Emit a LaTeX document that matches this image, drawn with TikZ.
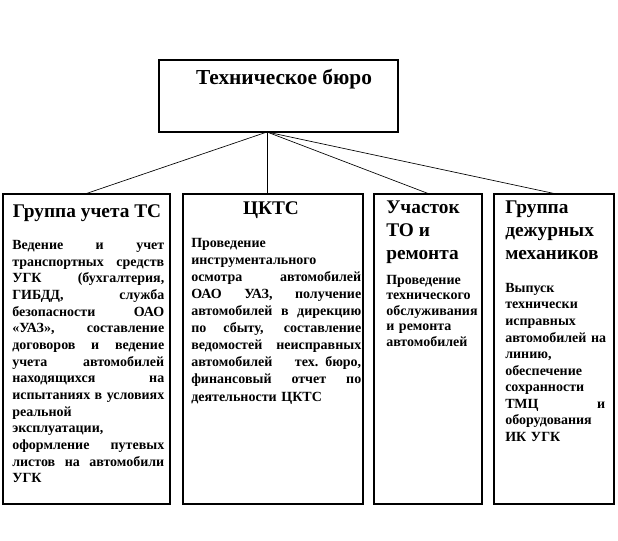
\documentclass[tikz,border=0pt]{standalone}
\usepackage{fontspec}
\setmainfont{Liberation Serif}
\usetikzlibrary{positioning}

\newcommand\jrow[1]{\leavevmode\hbox to\linewidth{\spaceskip=\fontdimen2\font plus 1fil\relax #1}}

\begin{document}
\begin{tikzpicture}[x=0.75pt,y=-0.75pt,
    box/.style={draw,line width=0.8pt,inner sep=0pt},
    head/.style={font=\bfseries\fontsize{14.5}{17.25}\selectfont,inner sep=0pt,align=left},
    body/.style={font=\bfseries\fontsize{10.5}{#1}\selectfont,inner sep=0pt,align=left,anchor=north west}]

    \useasboundingbox (0,0) rectangle (618,540);

    % frames
    \node[box,minimum width=179.25pt,minimum height=54pt] (buro) at (278.5,96) {};
    \node[box,minimum width=125.25pt,minimum height=232.5pt] (uchet) at (86.5,349) {};
    \node[box,minimum width=135pt,minimum height=232.5pt] (ckts) at (273,349) {};
    \node[box,minimum width=81pt,minimum height=232.5pt] (remont) at (428,349) {};
    \node[box,minimum width=90pt,minimum height=232.5pt] (meh) at (554,349) {};

    % connectors
    \coordinate (hub) at (267,132);
    \draw[line width=0.5pt] (hub) -- (uchet.north);
    \draw[line width=0.5pt] (hub) -- (hub |- ckts.north);
    \draw[line width=0.5pt] (hub) -- (remont.north);
    \draw[line width=0.5pt] (hub) -- (meh.north);

    % headings
    \node[font=\bfseries\fontsize{16}{19}\selectfont,anchor=base,inner sep=0pt] (buroname) at (284,84) {Техническое бюро};
    \node[head,anchor=base] (uchethead) at (87,217) {Группа учета ТС};
    \node[head,anchor=base] (cktshead) at (271,214) {ЦКТС};
    \node[head,anchor=north west] (remonthead) at (386,201) {Участок\\ТО и\\ремонта};
    \node[head,anchor=north west] (mehhead) at (505,201) {Группа\\дежурных\\механиков};

    % texts
    \node[body=12.5,text width=114pt] (uchettext) at (12,240) {%
      \jrow{Ведение и учет}\\
      \jrow{транспортных средств}\\
      \jrow{УГК (бухгалтерия,}\\
      \jrow{ГИБДД, служба}\\
      \jrow{безопасности ОАО}\\
      \jrow{«УАЗ», составление}\\
      \jrow{договоров и ведение}\\
      \jrow{учета автомобилей}\\
      \jrow{находящихся на}\\
      \jrow{испытаниях в условиях}\\
      реальной\\
      эксплуатации,\\
      \jrow{оформление путевых}\\
      \jrow{листов на автомобили}\\
      УГК};
    \node[body=12.8,text width=127.5pt] (cktstext) at (191,238) {%
      Проведение\\
      инструментального\\
      \jrow{осмотра автомобилей}\\
      \jrow{ОАО УАЗ, получение}\\
      \jrow{автомобилей в дирекцию}\\
      \jrow{по сбыту, составление}\\
      \jrow{ведомостей неисправных}\\
      \jrow{автомобилей тех. бюро,}\\
      \jrow{финансовый отчет по}\\
      деятельности ЦКТС};
    \node[body=11.6,text width=70.5pt] (remonttext) at (386,275) {%
      Проведение\\
      технического\\
      обслуживания\\
      и ремонта\\
      автомобилей};
    \node[body=12.4,text width=75pt] (mehtext) at (505,283) {%
      Выпуск\\
      технически\\
      исправных\\
      \mbox{автомобилей на}\\
      линию,\\
      обеспечение\\
      сохранности\\
      \jrow{ТМЦ и}\\
      оборудования\\
      ИК УГК};
  \end{tikzpicture}
\end{document}
